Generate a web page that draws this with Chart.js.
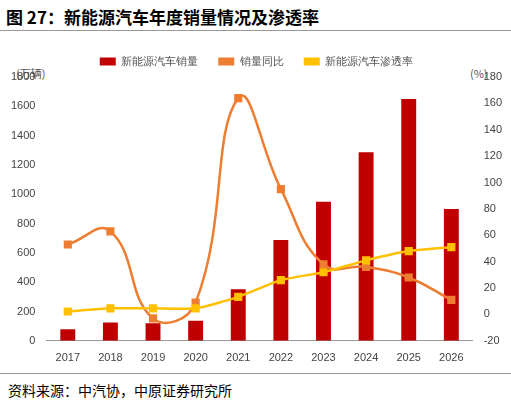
<!DOCTYPE html>
<html><head><meta charset="utf-8">
<script src="https://cdn.jsdelivr.net/npm/chart.js@4"></script>
<style>
body{margin:0;width:511px;height:410px;background:#fff;font-family:"Noto Sans CJK SC",sans-serif;position:relative;overflow:hidden}
#t{position:absolute;left:6px;top:4px;font-size:17px;font-weight:bold;color:#000}
#l1{position:absolute;left:0;top:30px;width:511px;border-top:1px solid #999}
#l2{position:absolute;left:0;top:373px;width:511px;border-top:1px solid #999}
#s{position:absolute;left:8px;top:380px;font-size:14px;color:#000}
#u1{position:absolute;left:16px;top:65px;font-size:11px;color:#555}
#u2{position:absolute;left:470px;top:65px;font-size:11px;color:#555}
#c{position:absolute;left:0;top:36px}
</style></head><body>
<div id="t">图 27：新能源汽车年度销量情况及渗透率</div>
<div id="l1"></div>
<div id="u1">(万辆)</div><div id="u2">(%)</div>
<canvas id="c" width="511" height="332"></canvas>
<div id="l2"></div>
<div id="s">资料来源：中汽协，中原证券研究所</div>
<script>
const categories=['2017','2018','2019','2020','2021','2022','2023','2024','2025','2026'];
const sales=[78,125,120,137,352,688,949,1287,1650,900];
const growth=[53,63,-3,9,164,95,38,36,28,11];
const penetration=[2.2,4.6,4.6,4.6,13.3,26,32,41,48,51];
new Chart(document.getElementById('c'),{
data:{labels:categories,datasets:[
{type:'line',label:'销量同比',data:growth,yAxisID:'y1',borderColor:'#ED7D31',backgroundColor:'#ED7D31',borderWidth:2.5,tension:0.45,pointStyle:'rect',pointRadius:4,order:1},
{type:'line',label:'新能源汽车渗透率',data:penetration,yAxisID:'y1',borderColor:'#FFC000',backgroundColor:'#FFC000',borderWidth:2.5,tension:0.2,pointStyle:'rect',pointRadius:4,order:0},
{type:'bar',label:'新能源汽车销量',data:sales,yAxisID:'y',backgroundColor:'#C00000',barPercentage:0.35,categoryPercentage:1,order:2}
]},
options:{responsive:false,animation:false,
layout:{padding:{left:8,right:6,top:0,bottom:0}},
plugins:{legend:{position:'top',labels:{boxWidth:16,boxHeight:8,font:{size:11},color:'#555',padding:20,
  sort:(a,b)=>[2,0,1].indexOf(a.datasetIndex)-[2,0,1].indexOf(b.datasetIndex),
  generateLabels:(ch)=>Chart.defaults.plugins.legend.labels.generateLabels(ch).map(l=>({...l,lineWidth:0,pointStyle:undefined}))}},
  tooltip:{enabled:false}},
scales:{
x:{grid:{display:false},border:{color:'#999'},ticks:{color:'#444',font:{size:11}}},
y:{position:'left',min:0,max:1800,afterFit:s=>{},ticks:{stepSize:200,color:'#444',font:{size:11},callback:v=>String(v)},grid:{display:false},border:{display:false}},
y1:{position:'right',min:-20,max:180,ticks:{stepSize:20,color:'#444',font:{size:11}},grid:{display:false},border:{display:false}}
}}},
);
</script>
<script>
// extra space between legend and plot to fit unit labels
</script>
</body></html>
